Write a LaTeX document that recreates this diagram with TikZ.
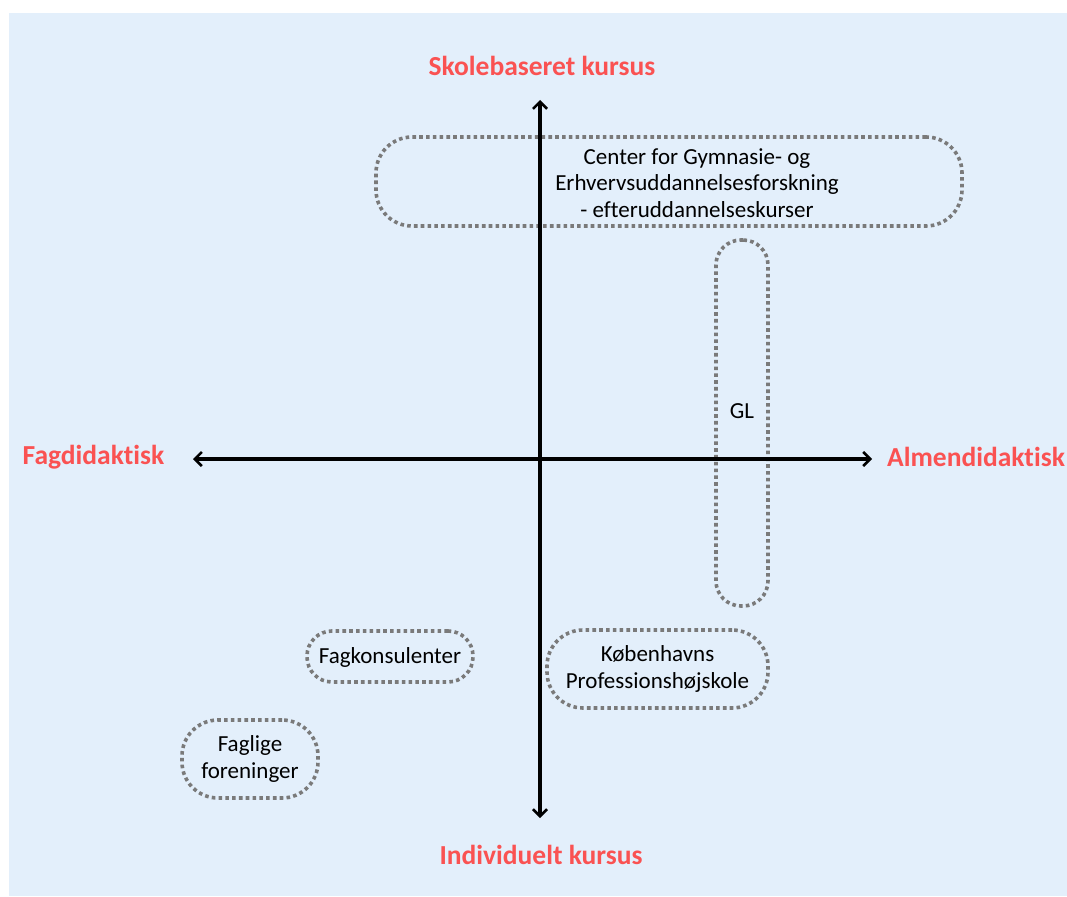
\documentclass[tikz,border=0pt]{standalone}
\usepackage{fontspec}
\setmainfont{Carlito}[Ligatures=NoCommon]
\usetikzlibrary{arrows.meta}
\definecolor{bgblue}{RGB}{227,239,251}
\definecolor{axred}{RGB}{250,82,82}
\definecolor{dotgray}{RGB}{122,122,122}
\tikzset{
  axis/.style={line width=3.2pt, draw=black, {Straight Barb[length=7pt,width=14pt,line width=2.6pt]}-{Straight Barb[length=7pt,width=14pt,line width=2.6pt]}},
  axlabel/.style={text=axred, font=\fontsize{27.5}{32}\selectfont\bfseries, inner sep=0pt},
  pill/.style={draw=dotgray, line width=3.6pt, dash pattern=on 3.6pt off 3.2pt, inner sep=0pt},
  boxtext/.style={font=\fontsize{23}{26.5}\selectfont, align=center, inner sep=0pt, text=black}
}
\begin{document}
\begin{tikzpicture}[x=1pt,y=-1pt]
\useasboundingbox (0,0) rectangle (1067,896);
\fill[bgblue] (9,13) rectangle (1067,896);
% pills
\node[pill, rounded corners=36pt, minimum width=586pt, minimum height=89pt] (cgebox) at (669,181.5) {};
\node[boxtext] (cge) at (697,183) {Center for Gymnasie- og\\Erhvervsuddannelsesforskning\\- efteruddannelseskurser};
\node[pill, rounded corners=25pt, minimum width=52pt, minimum height=366pt] (glbox) at (742,423) {};
\node[boxtext] (gl) at (742,411) {GL};
\node[pill, rounded corners=25pt, minimum width=166pt, minimum height=51pt] (fkbox) at (390,656.5) {};
\node[boxtext] (fk) at (390,657) {Fagkonsulenter};
\node[pill, rounded corners=36pt, minimum width=136pt, minimum height=78pt] (ffbox) at (250,759) {};
\node[boxtext] (ff) at (250,759) {Faglige\\foreninger};
\node[pill, rounded corners=36pt, minimum width=221pt, minimum height=78pt] (kpbox) at (657.5,669) {};
\node[boxtext] (kp) at (657.5,669) {Københavns\\Professionshøjskole};
% axis end points
\coordinate (top) at (540,100);
\coordinate (bot) at (540,818);
\coordinate (lft) at (193,459);
\coordinate (rgt) at (872,459);
\draw[axis] (bot) -- (top);
\draw[axis] (lft) -- (rgt);
% labels
\node[axlabel] (sk) at (542,66) {Skolebaseret kursus};
\node[axlabel] (ik) at (541,855) {Individuelt kursus};
\node[axlabel] (fd) at (93.5,457) {Fagdidaktisk};
\node[axlabel] (ad) at (976,457) {Almendidaktisk};
\end{tikzpicture}
\end{document}
